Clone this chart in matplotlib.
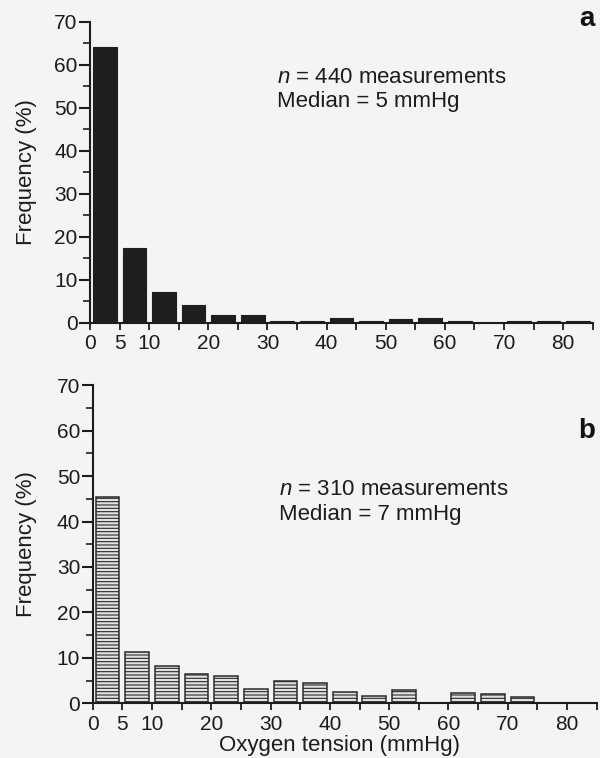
import numpy as np
import matplotlib.pyplot as plt

# Bin left edges (mmHg), 5 mmHg wide bins
bin_edges = list(range(0, 85, 5))

# Panel a: frequency (%) per bin, n = 440
freq_a = [64.2, 17.5, 7.1, 4.2, 1.9, 1.9, 0.5, 0.5, 1.2, 0.5, 0.8, 1.2, 0.5, 0.0, 0.5, 0.5, 0.5]
# Panel b: frequency (%) per bin, n = 310
freq_b = [45.4, 11.2, 8.2, 6.4, 6.0, 3.1, 4.9, 4.5, 2.6, 1.7, 2.9, 0.0, 2.3, 2.0, 1.4, 0.0, 0.0]

x_ticks = [0, 5, 10, 15, 20, 25, 30, 35, 40, 45, 50, 55, 60, 65, 70, 75, 80, 85]
x_labels = ["0", "5", "10", "", "20", "", "30", "", "40", "", "50", "", "60", "", "70", "", "80", ""]

texts_a = ["$n$ = 440 measurements", "Median = 5 mmHg"]
texts_b = ["$n$ = 310 measurements", "Median = 7 mmHg"]

plt.rcParams['font.family'] = ['Liberation Sans', 'DejaVu Sans']
plt.rcParams['mathtext.fontset'] = 'custom'
plt.rcParams['mathtext.it'] = 'Liberation Sans:italic'
plt.rcParams['mathtext.rm'] = 'Liberation Sans'
plt.rcParams['hatch.linewidth'] = 0.8

bg = '#f4f4f2'
ink = '#1c1c1c'
fig = plt.figure(figsize=(6, 7.58), dpi=100, facecolor=bg)
ax_a = fig.add_axes([0.150, 0.574, 0.838, 0.397])
ax_b = fig.add_axes([0.1545, 0.072, 0.840, 0.420])

centers = np.array(bin_edges) + 2.5


def style_axis(ax, label_x):
    ax.set_facecolor(bg)
    ax.set_xlim(0, 85)
    ax.set_ylim(0, 70)
    for s in ["top", "right"]:
        ax.spines[s].set_visible(False)
    for s in ["left", "bottom"]:
        ax.spines[s].set_linewidth(1.5)
        ax.spines[s].set_color(ink)
    ax.set_yticks(range(0, 71, 10))
    ax.set_yticks(range(5, 70, 10), minor=True)
    ax.set_xticks(x_ticks)
    ax.set_xticklabels(x_labels)
    ax.tick_params(axis='y', which='major', length=8, width=1.5, labelsize=15, colors=ink, pad=1)
    ax.tick_params(axis='y', which='minor', length=5, width=1.2, colors=ink)
    ax.tick_params(axis='x', length=5, width=1.3, labelsize=15, colors=ink, pad=3)
    ax.set_ylabel("Frequency (%)", fontsize=16, color=ink)
    ax.yaxis.set_label_coords(label_x, 0.5)


# Panel a: solid dark bars
ax_a.bar(centers, freq_a, width=4.0, color='#1e1e1e', edgecolor='#1e1e1e', linewidth=0.8)
style_axis(ax_a, -0.105)
fig.text(0.462, 0.898, texts_a[0], fontsize=16, color=ink, va='center')
fig.text(0.462, 0.866, texts_a[1], fontsize=16, color=ink, va='center')

# Panel b: horizontally hatched bars
ax_b.bar(centers, freq_b, width=4.0, color='#e2e2e2', edgecolor='#2a2a2a',
         linewidth=1.1, hatch='-----')
style_axis(ax_b, -0.110)
fig.text(0.465, 0.354, texts_b[0], fontsize=16, color=ink, va='center')
fig.text(0.465, 0.321, texts_b[1], fontsize=16, color=ink, va='center')
ax_b.set_xlabel("Oxygen tension (mmHg)", fontsize=16, color=ink)
ax_b.xaxis.set_label_coords(0.49, -0.131)
ax_b.xaxis.label.set_va('center')

# Panel letters
fig.text(0.978, 0.975, "a", fontsize=20, fontweight='bold', ha='center', va='center', color='#111111')
fig.text(0.978, 0.432, "b", fontsize=20, fontweight='bold', ha='center', va='center', color='#111111')

fig.savefig("out.png", dpi=100, facecolor=bg)
